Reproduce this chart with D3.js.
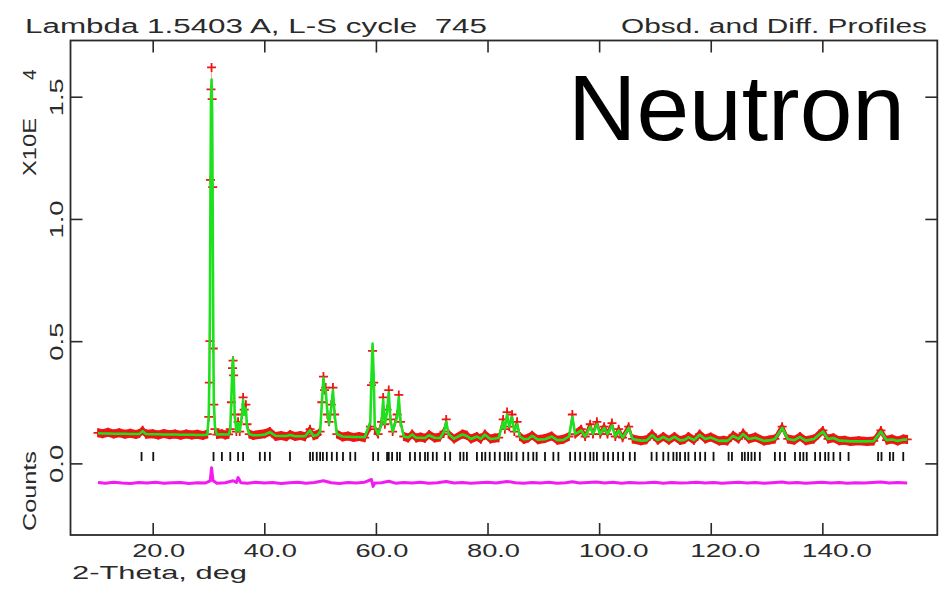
<!DOCTYPE html>
<html>
<head>
<meta charset="utf-8">
<script src="https://cdn.jsdelivr.net/npm/d3@7"></script>
<style>
  html, body { margin: 0; padding: 0; background: #fff; }
  svg { display: block; }
  text { font-family: "Liberation Sans", Arial, sans-serif; fill: #2a2a2a; white-space: pre; }
</style>
</head>
<body>
<svg id="chart" width="941" height="590"></svg>
<script>
// ---------------- data ----------------
const titleLeft = "Lambda 1.5403 A, L-S cycle  745";
const titleRight = "Obsd. and Diff. Profiles";
const xTitle = "2-Theta, deg";
const yTitleMain = "X10E";
const yTitleExp = "4";
const yTitleBottom = "Counts";
const stampText = "Neutron";

const xTicks = [20, 40, 60, 80, 100, 120, 140];
const xTickLabels = ["20.0", "40.0", "60.0", "80.0", "100.0", "120.0", "140.0"];
const yTicks = [0, 0.5, 1.0, 1.5];
const yTickLabels = ["0.0", "0.5", "1.0", "1.5"];

// 2-theta positions of profile points (deg)
const twoTheta = [
  10.2,11.0,12.0,13.0,14.0,15.0,16.0,17.0,17.6,18.2,18.8,20.0,21.0,22.0,23.0,24.0,25.0,26.0,27.0,28.0,29.0,29.8,
  30.05,30.15,30.25,30.35,30.45,30.55,30.65,30.75,30.85,30.95,31.15,31.5,32.4,33.0,33.6,33.9,34.1,34.3,34.4,34.5,34.7,
  35.0,35.3,35.6,36.0,36.2,36.4,36.7,36.9,37.3,38.0,39.0,40.1,41.0,42.0,43.0,44.0,44.6,45.5,46.5,47.3,48.2,48.8,49.5,
  50.0,50.3,50.6,50.8,51.0,51.3,51.6,52.0,52.3,52.6,53.0,54.0,55.0,56.0,57.0,58.0,59.0,59.2,59.4,59.6,59.8,60.4,
  61.0,61.3,61.6,62.0,62.3,62.6,63.0,63.8,64.1,64.4,65.0,65.8,66.5,67.2,68.0,68.8,69.5,70.5,71.5,72.2,72.6,73.0,
  74.0,75.5,76.3,77.0,78.1,78.8,79.5,80.5,81.3,82.0,82.8,83.1,83.5,83.9,84.4,84.8,85.3,85.8,86.5,87.3,88.0,89.0,
  90.3,91.5,92.5,93.6,94.6,95.2,95.7,96.8,97.5,98.4,98.9,99.6,100.2,100.9,101.5,102.3,102.9,103.5,104.2,105.3,106.0,
  107.5,108.5,109.5,110.5,111.5,112.5,113.5,114.5,115.3,116.0,117.0,118.0,119.0,120.0,121.5,122.3,123.0,124.0,125.0,
  125.8,126.8,128.0,129.5,130.5,131.5,132.8,133.8,135.0,136.0,137.0,138.5,140.1,141.0,142.0,143.0,144.0,145.0,146.5,
  148.0,149.2,150.5,151.5,152.5,153.5,154.5,155.2
];
// observed counts (x 10^4)
const observed = [
  .125,.121,.127,.120,.125,.119,.123,.118,.122,.136,.119,.121,.116,.122,.117,.120,.115,.120,.116,.119,.114,.120,
  .19,.33,.50,1.16,1.53,1.62,1.49,1.13,.47,.24,.14,.118,.121,.116,.119,.14,.25,.39,.42,.36,.20,
  .13,.17,.13,.20,.27,.22,.24,.16,.12,.114,.118,.121,.13,.110,.114,.109,.118,.110,.114,.109,.14,.113,.118,
  .13,.25,.355,.30,.31,.20,.17,.24,.31,.20,.12,.108,.112,.106,.110,.105,.15,.32,.46,.33,.14,.12,
  .17,.27,.16,.22,.30,.18,.13,.20,.28,.17,.11,.104,.12,.104,.108,.103,.118,.104,.108,.13,.18,.12,
  .100,.12,.115,.100,.11,.099,.12,.100,.104,.105,.18,.14,.21,.15,.20,.13,.17,.11,.098,.104,.115,.097,
  .102,.112,.095,.099,.11,.20,.12,.14,.11,.16,.12,.17,.12,.15,.12,.165,.11,.14,.105,.15,.10,
  .093,.097,.12,.095,.11,.095,.11,.094,.098,.11,.095,.12,.10,.108,.092,.095,.092,.115,.10,
  .124,.10,.108,.092,.096,.10,.15,.10,.095,.11,.093,.10,.135,.10,.105,.093,.095,.090,.093,
  .089,.092,.135,.095,.10,.092,.10,.098
];
// calculated counts (x 10^4)
const calculated = [
  .123,.122,.122,.121,.121,.121,.120,.120,.120,.132,.120,.119,.119,.118,.118,.118,.117,.117,.117,.116,.116,.117,
  .20,.36,.62,1.10,1.50,1.57,1.45,1.05,.55,.26,.15,.118,.119,.118,.118,.14,.27,.41,.43,.38,.20,
  .13,.165,.13,.20,.26,.20,.225,.15,.12,.115,.115,.118,.128,.113,.112,.112,.116,.111,.111,.111,.135,.112,.116,
  .13,.24,.35,.30,.30,.21,.16,.23,.30,.20,.12,.110,.109,.108,.108,.107,.17,.35,.49,.36,.15,.118,
  .16,.26,.16,.21,.29,.18,.13,.19,.27,.17,.11,.106,.118,.105,.105,.104,.115,.105,.104,.13,.17,.12,
  .101,.118,.112,.100,.11,.100,.118,.100,.102,.105,.17,.14,.20,.15,.19,.13,.16,.11,.099,.101,.113,.097,
  .099,.11,.095,.096,.11,.19,.12,.135,.11,.15,.12,.16,.12,.145,.12,.155,.11,.135,.105,.145,.10,
  .093,.094,.115,.095,.108,.095,.108,.094,.096,.107,.095,.117,.10,.106,.092,.093,.092,.112,.10,
  .12,.10,.105,.092,.094,.10,.145,.10,.095,.108,.093,.10,.13,.10,.104,.093,.092,.090,.090,
  .090,.091,.13,.095,.098,.092,.097,.097
];

// difference curve (obs - calc, offset), x 10^4
const diffTheta = [
  10.2,11.5,13,14.5,16,17.5,19,20.5,22,23.5,25,26.5,28,29.5,30.3,30.55,30.8,31.5,33,34.4,35,35.3,35.8,37,38.5,
  40,41.5,43,44.5,46,47.5,49,50.6,52,53.5,55,56.5,58,59.2,59.5,59.8,61,62.3,63.5,65,66.5,68,69.5,71,72.6,74,
  75.5,77,78.5,80,81.5,83.5,85,86.5,88,89.5,91,92.5,94,95.2,96.5,98,99.5,101,102.5,104,105.5,107,108.5,110,
  111.5,113,114.5,116,117.5,119,120.5,122,123.5,125,126.5,128,129.5,131,132.8,134,135.5,137,138.5,140,141.5,
  143,144.5,146,147.5,149,150.5,152,153.5,155.2
];
const difference = [
  -.078,-.081,-.077,-.080,-.082,-.078,-.080,-.077,-.081,-.079,-.078,-.082,-.079,-.080,-.072,-.018,-.070,-.081,-.079,-.071,-.078,-.058,-.079,-.081,-.077,
  -.080,-.078,-.082,-.079,-.077,-.081,-.078,-.071,-.079,-.082,-.078,-.080,-.077,-.066,-.094,-.080,-.079,-.073,-.081,-.078,-.080,-.077,-.081,-.079,-.074,-.080,
  -.078,-.081,-.079,-.077,-.080,-.074,-.079,-.081,-.078,-.080,-.077,-.081,-.079,-.075,-.080,-.078,-.076,-.080,-.077,-.081,-.078,-.080,-.079,-.077,
  -.081,-.078,-.080,-.079,-.077,-.080,-.078,-.081,-.079,-.077,-.080,-.078,-.081,-.079,-.076,-.080,-.078,-.081,-.079,-.077,-.080,
  -.078,-.081,-.079,-.080,-.078,-.076,-.080,-.078,-.080
];

// reflection marker positions (deg)
const reflections = [
  18.0,20.1,30.9,32.4,33.9,35.3,36.2,39.2,40.1,41.0,44.6,48.2,48.7,49.4,50.0,50.5,51.2,52.1,53.0,54.1,55.4,56.3,
  59.5,60.4,62.0,62.3,62.9,63.8,64.3,66.1,67.0,67.9,68.8,69.3,70.2,70.9,72.4,73.3,75.1,75.7,76.3,78.1,79.0,79.6,
  80.4,81.3,82.2,83.1,83.7,84.3,85.2,86.4,87.3,88.2,88.8,90.3,91.8,92.7,94.8,95.7,96.6,97.5,98.4,99.0,99.6,100.8,
  101.6,102.5,103.4,104.3,105.5,106.4,109.4,110.3,111.5,112.4,113.3,113.9,114.5,115.4,116.0,117.2,118.1,119.0,
  120.5,123.2,123.8,125.6,126.1,126.7,127.3,127.9,128.8,131.5,132.4,133.3,135.1,136.0,136.6,137.2,138.7,139.6,
  140.5,141.1,142.0,143.2,144.7,150.0,150.6,152.1,152.7,154.5
];

// ---------------- layout ----------------
const W = 941, H = 590;
const frame = { left: 70.5, right: 937.3, top: 40.5, bottom: 535 };
const xDomain = [5.27, 160.6];
const yDomain = [-0.293, 1.730];

const svg = d3.select("#chart");
const x = d3.scaleLinear().domain(xDomain).range([frame.left, frame.right]);
const y = d3.scaleLinear().domain(yDomain).range([frame.bottom, frame.top]);

const profile = twoTheta.map((t, i) => ({ t, o: observed[i], c: calculated[i] }));
const diffPts = diffTheta.map((t, i) => ({ t, d: difference[i] }));

svg.append("clipPath").attr("id", "plotclip").append("rect")
  .attr("x", frame.left).attr("y", frame.top)
  .attr("width", frame.right - frame.left).attr("height", frame.bottom - frame.top);

const plot = svg.append("g").attr("clip-path", "url(#plotclip)");

// observed band (red) - vertical thickness
const band = 4.5;
plot.append("path")
  .datum(profile)
  .attr("fill", "#f01414")
  .attr("d", d3.area()
    .x(d => x(d.t))
    .y0(d => y(d.o) + band)
    .y1(d => y(d.o) - band));

// observed "+" markers
const ms = 4.5;
plot.append("g").selectAll("path.obs")
  .data(profile)
  .join("path")
  .attr("class", "obs")
  .attr("stroke", "#f01414")
  .attr("stroke-width", 1.8)
  .attr("fill", "none")
  .attr("d", d => {
    const px = x(d.t), py = y(d.o);
    return `M${px - ms},${py}H${px + ms}M${px},${py - ms}V${py + ms}`;
  });

// calculated line (green)
plot.append("path")
  .datum(profile)
  .attr("fill", "none")
  .attr("stroke", "#1ee11e")
  .attr("stroke-width", 2.6)
  .attr("stroke-linejoin", "round")
  .attr("d", d3.line().x(d => x(d.t)).y(d => y(d.c)));

// reflection markers
plot.append("g").selectAll("line.refl")
  .data(reflections)
  .join("line")
  .attr("class", "refl")
  .attr("x1", d => x(d)).attr("x2", d => x(d))
  .attr("y1", y(0.047)).attr("y2", y(0.010))
  .attr("stroke", "#111")
  .attr("stroke-width", 1.8);

// difference curve (magenta)
plot.append("path")
  .datum(diffPts)
  .attr("fill", "none")
  .attr("stroke", "#f21cf2")
  .attr("stroke-width", 3)
  .attr("stroke-linejoin", "round")
  .attr("d", d3.line().x(d => x(d.t)).y(d => y(d.d)));

// ---------------- axes ----------------
const tickLen = 12;
const axisColor = "#2a2a2a";

const gBottom = svg.append("g").attr("transform", `translate(0,${frame.bottom})`)
  .call(d3.axisBottom(x).tickValues(xTicks).tickSizeInner(-tickLen).tickSizeOuter(0)
    .tickFormat((d, i) => xTickLabels[i]));
gBottom.selectAll("text")
  .attr("y", 22).attr("dy", 0).attr("x", -21)
  .attr("text-anchor", "start")
  .style("font-size", "19px")
  .attr("textLength", (d, i) => xTickLabels[i].length === 4 ? 53 : 70)
  .attr("lengthAdjust", "spacingAndGlyphs");

const gTop = svg.append("g").attr("transform", `translate(0,${frame.top})`)
  .call(d3.axisTop(x).tickValues(xTicks).tickSizeInner(-tickLen).tickSizeOuter(0).tickFormat(""));

const gLeft = svg.append("g").attr("transform", `translate(${frame.left},0)`)
  .call(d3.axisLeft(y).tickValues(yTicks).tickSizeInner(-tickLen).tickSizeOuter(0)
    .tickFormat((d, i) => yTickLabels[i]));
gLeft.selectAll("text")
  .attr("x", 0).attr("y", 0).attr("dy", 0)
  .attr("transform", "translate(-8,0) rotate(-90)")
  .attr("text-anchor", "middle")
  .style("font-size", "19px")
  .attr("textLength", 38)
  .attr("lengthAdjust", "spacingAndGlyphs");

const gRight = svg.append("g").attr("transform", `translate(${frame.right},0)`)
  .call(d3.axisRight(y).tickValues(yTicks).tickSizeInner(-tickLen).tickSizeOuter(0).tickFormat(""));

[gBottom, gTop, gLeft, gRight].forEach(g => {
  g.select(".domain").remove();
  g.selectAll(".tick line").attr("stroke", axisColor).attr("stroke-width", 1.6);
  g.selectAll("text").style("fill", axisColor).style("font-family", "Liberation Sans, Arial, sans-serif");
});

// frame
svg.append("rect")
  .attr("x", frame.left).attr("y", frame.top)
  .attr("width", frame.right - frame.left).attr("height", frame.bottom - frame.top)
  .attr("fill", "none").attr("stroke", axisColor).attr("stroke-width", 1.8);

// ---------------- texts ----------------
svg.append("text").attr("x", 25).attr("y", 33)
  .attr("xml:space", "preserve")
  .style("font-size", "20px")
  .attr("textLength", 462).attr("lengthAdjust", "spacingAndGlyphs")
  .text(titleLeft);
svg.append("text").attr("x", 621).attr("y", 33)
  .style("font-size", "20px")
  .attr("textLength", 306).attr("lengthAdjust", "spacingAndGlyphs")
  .text(titleRight);

svg.append("text").attr("x", 72).attr("y", 579)
  .style("font-size", "19px")
  .attr("textLength", 175).attr("lengthAdjust", "spacingAndGlyphs")
  .text(xTitle);

// y-axis title (rotated)
svg.append("text")
  .attr("transform", "translate(36,176) rotate(-90)")
  .style("font-size", "19px")
  .attr("textLength", 58).attr("lengthAdjust", "spacingAndGlyphs")
  .text(yTitleMain);
svg.append("text")
  .attr("transform", "translate(36,80) rotate(-90)")
  .style("font-size", "19px")
  .text(yTitleExp);
svg.append("text")
  .attr("transform", "translate(36,531) rotate(-90)")
  .style("font-size", "19px")
  .attr("textLength", 80).attr("lengthAdjust", "spacingAndGlyphs")
  .text(yTitleBottom);

// big label
svg.append("text").attr("x", 568).attr("y", 140)
  .style("font-size", "92px")
  .style("fill", "#000")
  .attr("textLength", 337).attr("lengthAdjust", "spacingAndGlyphs")
  .text(stampText);
</script>
</body>
</html>
